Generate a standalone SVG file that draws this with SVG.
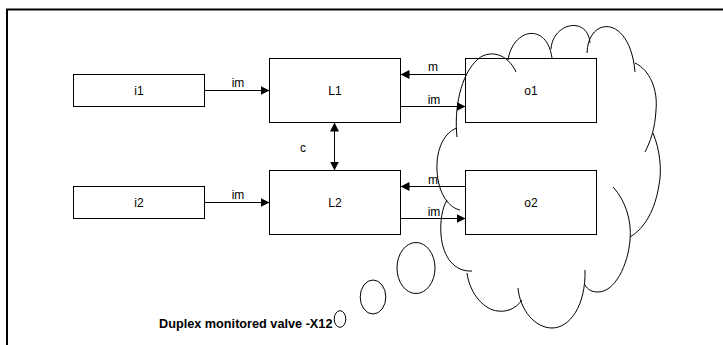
<svg xmlns="http://www.w3.org/2000/svg" width="723" height="345" viewBox="0 0 723 345">
<style>
.box{fill:#fff;stroke:#000;stroke-width:1}
.t{font-family:"Liberation Sans",Arial,sans-serif;font-size:12px;fill:#000;text-anchor:middle}
.c{fill:none;stroke:#000;stroke-width:1}
.cl{fill:none;stroke:#000;stroke-width:1}
</style>
<defs>
<marker id="ah" viewBox="0 0 10 10" refX="10" refY="5" markerWidth="9" markerHeight="9" markerUnits="userSpaceOnUse" orient="auto-start-reverse">
<path d="M0,0 L10,5 L0,10 Z" fill="#000"/>
</marker>
</defs>
<rect x="0" y="0" width="723" height="345" fill="#fff"/>
<path d="M7,346 V9.5 H724" fill="none" stroke="#000" stroke-width="2"/>
<g id="i1"><rect class="box" x="73.5" y="74.5" width="131" height="32"/><text class="t" x="139" y="94.5">i1</text></g>
<g id="i2"><rect class="box" x="73.5" y="186.5" width="131" height="32"/><text class="t" x="139" y="206.5">i2</text></g>
<g id="L1"><rect class="box" x="269.5" y="58.5" width="131" height="64"/><text class="t" x="335" y="94.5">L1</text></g>
<g id="L2"><rect class="box" x="269.5" y="170.5" width="131" height="64"/><text class="t" x="335" y="206.5">L2</text></g>
<g id="o1"><rect class="box" x="465.5" y="58.5" width="131" height="64"/><text class="t" x="531" y="94.5">o1</text></g>
<g id="o2"><rect class="box" x="465.5" y="170.5" width="131" height="64"/><text class="t" x="531" y="206.5">o2</text></g>
<g id="connectors">
<path class="c" d="M204.5,90.5 H269.5" marker-end="url(#ah)"/>
<path class="c" d="M204.5,202.5 H269.5" marker-end="url(#ah)"/>
<path class="c" d="M465.5,74.5 H400.5" marker-end="url(#ah)"/>
<path class="c" d="M400.5,106.5 H465.5" marker-end="url(#ah)"/>
<path class="c" d="M465.5,186.5 H400.5" marker-end="url(#ah)"/>
<path class="c" d="M400.5,218.5 H465.5" marker-end="url(#ah)"/>
<path class="c" d="M334.5,122.5 V170.5" marker-start="url(#ah)" marker-end="url(#ah)"/>
<text class="t" x="238" y="87">im</text>
<text class="t" x="238" y="199">im</text>
<text class="t" x="433" y="71">m</text>
<text class="t" x="434" y="103.5">im</text>
<text class="t" x="433" y="183.5">m</text>
<text class="t" x="434" y="215.5">im</text>
<text class="t" x="303" y="151.5">c</text>
</g>
<g id="cloud">
<path class="cl" d="M457,137 C454,110 460,75 478,59 C490,49 508,54 516,72"/>
<path class="cl" d="M508,60 C513,28 547,22 552,58"/>
<path class="cl" d="M551,49 C553,22 588,16 590,43"/>
<path class="cl" d="M587,53 C588,16 630,14 635,72"/>
<path class="cl" d="M635,63 C650,70 658,90 656,110 C655,130 650,142 645,152"/>
<path class="cl" d="M653,133 C660,150 662,170 659,185 C655,210 645,228 630,237"/>
<path class="cl" d="M613,187 C625,200 632,220 630,240 C628,265 615,292 598,292 C592,292 588,290 585,285"/>
<path class="cl" d="M585,270 C586,305 570,328 552,328 C535,328 520,310 518,288"/>
<path class="cl" d="M522,300 C515,310 505,312 498,311 C485,310 470,295 467,273"/>
<path class="cl" d="M472,271 C455,272 443,258 441,235 C440,222 442,208 447,200"/>
<path class="cl" d="M460,210 C450,208 438,195 437,170 C436,148 445,132 457,128"/>
<ellipse class="cl" cx="416" cy="268" rx="19" ry="25.5"/>
<ellipse class="cl" cx="373" cy="297" rx="12.8" ry="17"/>
<ellipse class="cl" cx="340" cy="319" rx="5.8" ry="8.3"/>
</g>
<text x="159" y="327.5" font-family="Liberation Sans, Arial, sans-serif" font-size="12.7" font-weight="bold" fill="#000">Duplex monitored valve -X12</text>
</svg>
